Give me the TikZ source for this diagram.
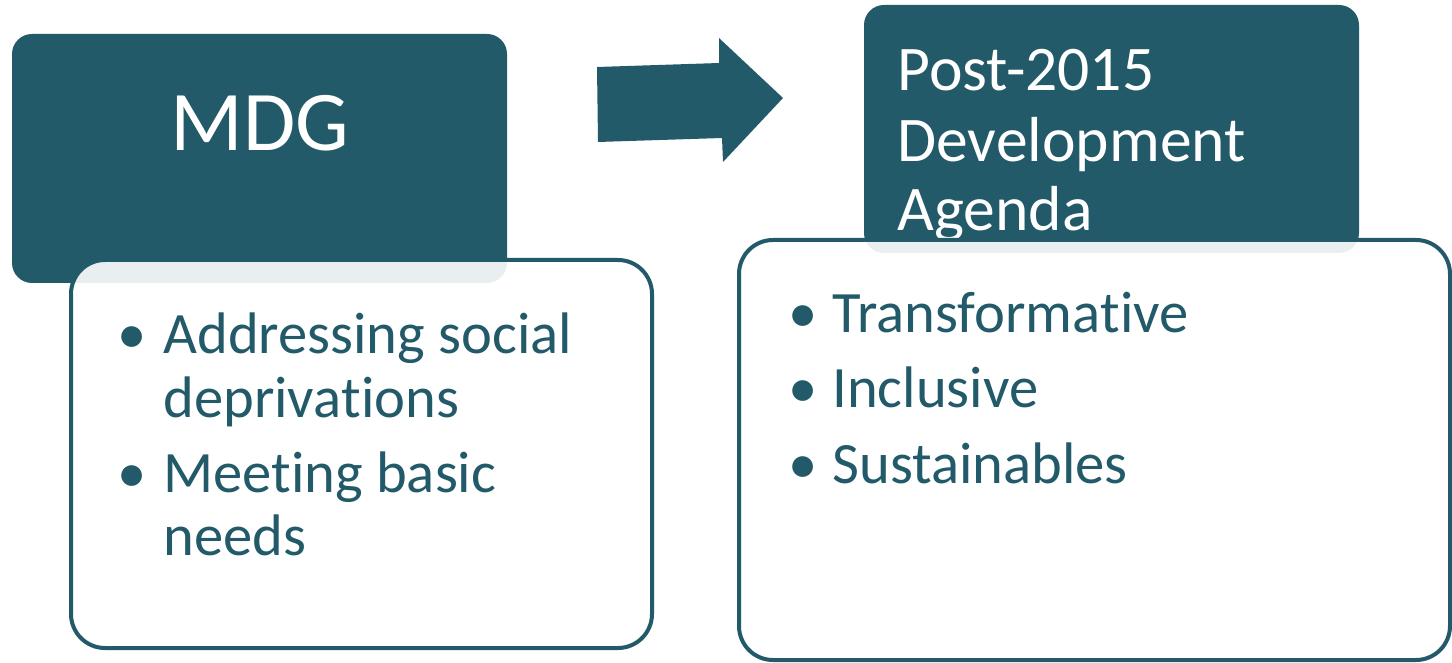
\documentclass[tikz,border=0pt]{standalone}
\usepackage{fontspec}
\setmainfont{Carlito}[Ligatures={NoCommon}]
\definecolor{teal1}{HTML}{235A69}
\newcommand{\nolig}{\kern0pt }
\begin{document}
\begin{tikzpicture}[x=0.5pt,y=-0.5pt,
  darkbox/.style={fill=teal1, draw=none, rounded corners=10pt, inner sep=0pt},
  whitebox/.style={fill=white, fill opacity=0.9, draw=teal1, draw opacity=1, line width=2pt, rounded corners=17pt, inner sep=0pt},
  bigtxt/.style={text=white, inner sep=0pt, font=\fontsize{42.5pt}{50pt}\selectfont},
  headtxt/.style={text=white, inner sep=0pt, anchor=base west, font=\fontsize{31.8pt}{36pt}\selectfont},
  itemtxt/.style={text=teal1, inner sep=0pt, anchor=base west, font=\fontsize{29.3pt}{34pt}\selectfont},
]
\useasboundingbox (0,0) rectangle (1452,663);
% left
\node[darkbox, minimum width=247.5pt, minimum height=124.5pt] (mdgbox) at (259.5,158.5) {};
\node[bigtxt, anchor=base] (mdg) at (260,151) {MDG};
\node[whitebox, minimum width=290.5pt, minimum height=194pt] (leftlist) at (361.5,454) {};
\node[itemtxt] (lb1) at (117,354) {•};
\node[itemtxt] (l1a) at (163,354) {Addressing social};
\node[itemtxt] (l1b) at (163,417) {depriva\nolig tions};
\node[itemtxt] (lb2) at (117,492) {•};
\node[itemtxt] (l2a) at (163,492) {Meeting basic};
\node[itemtxt] (l2b) at (163,555) {needs};
% arrow
\fill[teal1] (597,67) -- (719,63) -- (719,38) -- (783,98) -- (723,162) -- (722,138) -- (598,142) -- cycle;
% right
\node[darkbox, minimum width=247.5pt, minimum height=124pt] (postbox) at (1111.5,129) {};
\node[headtxt] (p1) at (897,91) {Post-2015};
\node[headtxt] (p2) at (897,162) {Development};
\node[headtxt] (p3) at (897,231) {Agenda};
\node[whitebox, minimum width=355.5pt, minimum height=210pt] (rightlist) at (1094.5,450) {};
\node[itemtxt] (rb1) at (788,333) {•};
\node[itemtxt] (r1) at (832,333) {Transforma\nolig tive};
\node[itemtxt] (rb2) at (788,408) {•};
\node[itemtxt] (r2) at (832,408) {Inclusive};
\node[itemtxt] (rb3) at (788,483) {•};
\node[itemtxt] (r3) at (832,483) {Sustainables};
\end{tikzpicture}
\end{document}
